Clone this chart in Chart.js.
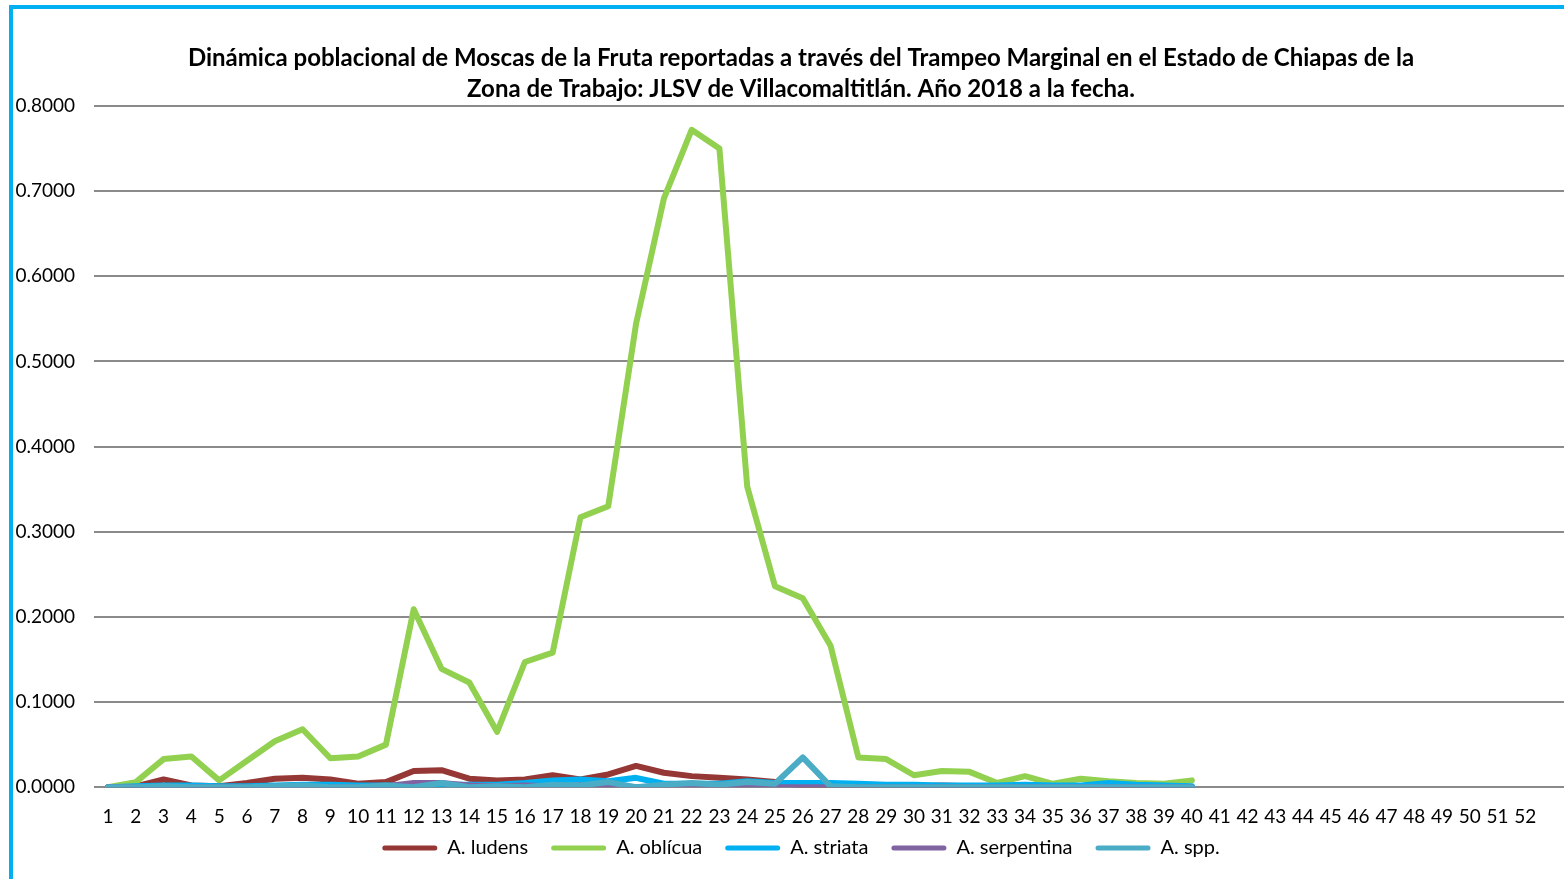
<!DOCTYPE html>
<html>
<head>
<meta charset="utf-8">
<script src="https://cdn.jsdelivr.net/npm/chart.js@4"></script>
<style>
  html, body { margin: 0; padding: 0; background: #fff; overflow: hidden; }
  #marco {
    position: absolute;
    left: 9px;
    top: 5px;
    width: 1586px;
    height: 910px;
    border: 4px solid #00b0f0;
  }
</style>
</head>
<body>
<div id="marco">
  <canvas id="grafica" width="1586" height="890"></canvas>
</div>
<script>
// semanas del año
const semanas = [1, 2, 3, 4, 5, 6, 7, 8, 9, 10, 11, 12, 13, 14, 15, 16, 17, 18, 19, 20,
  21, 22, 23, 24, 25, 26, 27, 28, 29, 30, 31, 32, 33, 34, 35, 36, 37, 38, 39, 40,
  41, 42, 43, 44, 45, 46, 47, 48, 49, 50, 51, 52];

// MTD por especie, semanas 1 a 40
const ludens = [0, 0.001, 0.009, 0.002, 0.001, 0.005, 0.010, 0.011, 0.009, 0.004,
  0.006, 0.019, 0.020, 0.010, 0.008, 0.009, 0.014, 0.009, 0.015, 0.025,
  0.017, 0.013, 0.011, 0.009, 0.006, 0.002, 0.002, 0.001, 0.001, 0.001,
  0.002, 0.001, 0, 0.001, 0.001, 0, 0.001, 0, 0, 0];
const obliqua = [0, 0.006, 0.033, 0.036, 0.008, 0.031, 0.054, 0.068, 0.034, 0.036,
  0.050, 0.209, 0.139, 0.123, 0.065, 0.147, 0.158, 0.317, 0.330, 0.544,
  0.691, 0.772, 0.750, 0.353, 0.236, 0.222, 0.166, 0.035, 0.033, 0.014,
  0.019, 0.018, 0.005, 0.013, 0.004, 0.010, 0.007, 0.005, 0.004, 0.008];
const striata = [0, 0.001, 0.002, 0.002, 0.001, 0.001, 0.002, 0.003, 0.003, 0.002,
  0.002, 0.002, 0.003, 0.003, 0.003, 0.005, 0.008, 0.009, 0.007, 0.011,
  0.004, 0.004, 0.004, 0.007, 0.005, 0.005, 0.005, 0.004, 0.003, 0.003,
  0.002, 0.002, 0.002, 0.003, 0.002, 0.002, 0.005, 0.003, 0.002, 0.001];
const serpentina = [0, 0, 0, 0, 0, 0, 0, 0, 0, 0,
  0.001, 0.005, 0.005, 0.002, 0.001, 0.002, 0.001, 0.002, 0.001, 0,
  0.001, 0.001, 0.001, 0, 0, 0, 0, 0, 0, 0,
  0, 0, 0, 0, 0, 0, 0, 0, 0, 0];
const spp = [0, 0, 0.001, 0, 0, 0, 0.001, 0.002, 0, 0,
  0.002, 0, 0.005, 0, 0.001, 0, 0.003, 0.002, 0.006, 0,
  0.003, 0.005, 0.003, 0.006, 0.004, 0.035, 0.001, 0, 0, 0,
  0, 0, 0, 0, 0, 0, 0, 0, 0, 0];

const especies = ['A. ludens', 'A. oblícua', 'A. striata', 'A. serpentina', 'A. spp.'];
const colores = ['#953735', '#92d050', '#00b0f0', '#8064a2', '#4bacc6'];
const series = [ludens, obliqua, striata, serpentina, spp];

const fuente = 'Lato, "Liberation Sans", sans-serif';

const datasets = series.map(function (valores, i) {
  return {
    label: especies[i],
    data: valores,
    borderColor: colores[i],
    backgroundColor: colores[i],
    borderWidth: 6,
    borderJoinStyle: 'round',
    borderCapStyle: 'round',
    pointRadius: 0,
    tension: 0,
    // la última serie queda encima
    order: series.length - i
  };
});

// sube la leyenda para que quede pegada a las etiquetas del eje X
const subirLeyenda = {
  id: 'subirLeyenda',
  afterLayout: function (chart) {
    const lg = chart.legend;
    if (lg) {
      lg.top -= 31;
      lg.bottom -= 31;
    }
  }
};

const ctx = document.getElementById('grafica').getContext('2d');
const grafica = new Chart(ctx, {
  type: 'line',
  data: { labels: semanas, datasets: datasets },
  plugins: [subirLeyenda],
  options: {
    responsive: false,
    animation: false,
    layout: { padding: { left: 0, right: 10, top: 0, bottom: 0 } },
    plugins: {
      tooltip: { enabled: false },
      title: {
        display: true,
        text: ['Dinámica poblacional de Moscas de la Fruta reportadas a través del Trampeo Marginal en el Estado de Chiapas de la',
          'Zona de Trabajo: JLSV de Villacomaltitlán. Año 2018 a la fecha.'],
        color: '#000',
        font: { family: fuente, size: 24, weight: 'bold', lineHeight: 1.29 },
        padding: { top: 34, bottom: 1 }
      },
      legend: {
        position: 'bottom',
        labels: {
          color: '#000',
          font: { family: fuente, size: 20 },
          boxWidth: 55,
          boxHeight: 5,
          padding: 23,
          useBorderRadius: true,
          borderRadius: 2.5,
          sort: function (a, b) { return a.datasetIndex - b.datasetIndex; },
          generateLabels: function (chart) {
            return Chart.defaults.plugins.legend.labels.generateLabels(chart).map(function (item) {
              item.lineWidth = 0;
              return item;
            });
          }
        }
      }
    },
    scales: {
      x: {
        type: 'linear',
        min: 0.496,
        max: 54.29,
        afterBuildTicks: function (scale) {
          scale.ticks = semanas.map(function (s) { return { value: s }; });
        },
        grid: { display: false, drawTicks: false },
        border: { display: false },
        ticks: {
          autoSkip: false,
          maxRotation: 0,
          color: '#000',
          padding: 18,
          font: { family: fuente, size: 19 },
          callback: function (v) { return String(v); }
        }
      },
      y: {
        min: 0,
        max: 0.8,
        afterFit: function (scale) { scale.width = 81; },
        grid: { color: '#8a8a8a', lineWidth: 2, drawTicks: false },
        border: { display: false },
        ticks: {
          stepSize: 0.1,
          color: '#000',
          padding: 19,
          font: { family: fuente, size: 19 },
          callback: function (v) { return v.toFixed(4); }
        }
      }
    }
  }
});
</script>
</body>
</html>
